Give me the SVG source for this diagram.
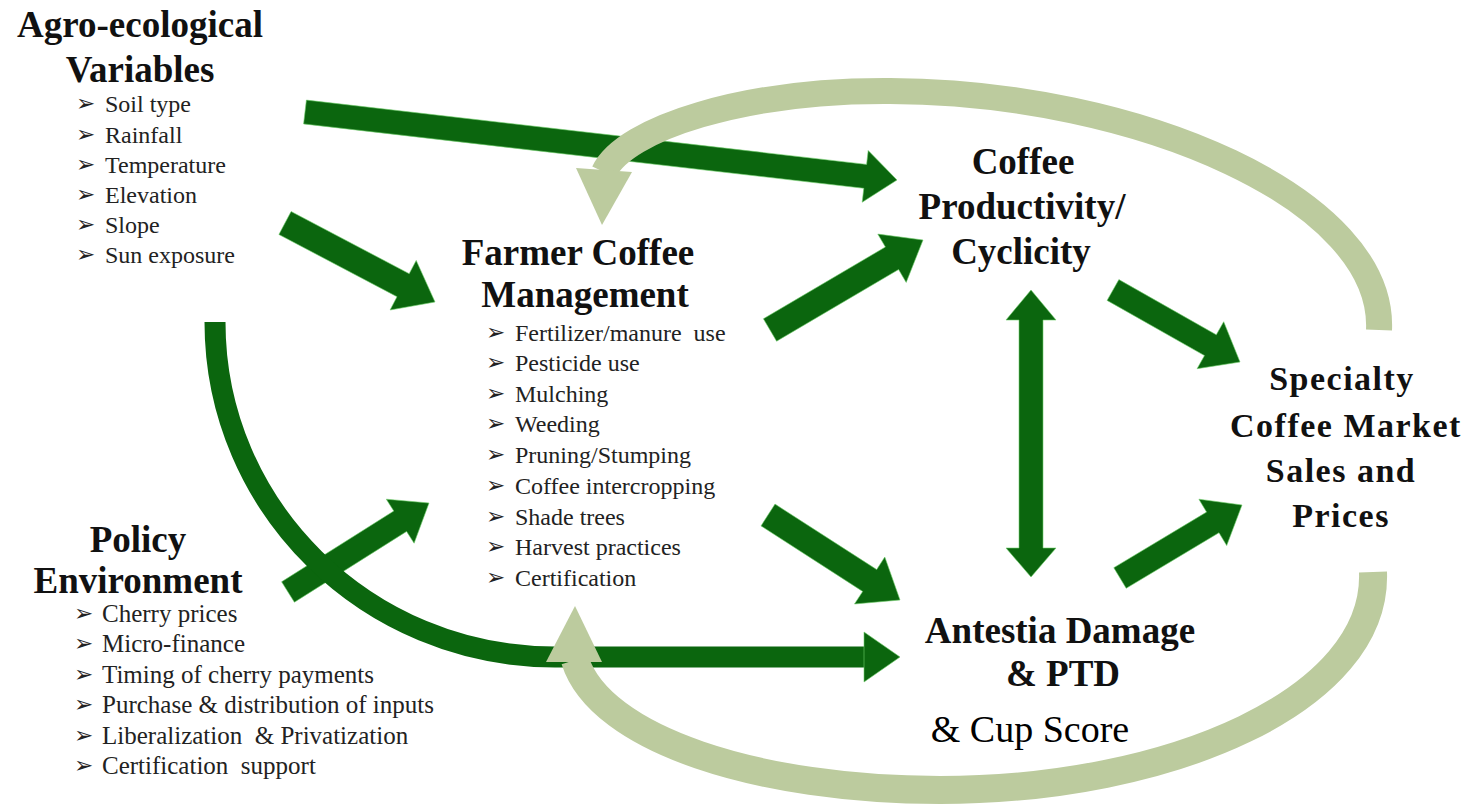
<svg xmlns="http://www.w3.org/2000/svg" width="1468" height="804" viewBox="0 0 1468 804">
<style>
.h{font-family:"Liberation Serif","Times New Roman",serif;font-weight:bold;font-size:37px;fill:#111;text-anchor:middle}
.hs{font-family:"Liberation Serif","Times New Roman",serif;font-weight:bold;font-size:34px;fill:#111;text-anchor:middle;letter-spacing:1.5px}
.b{font-family:"Liberation Serif","Times New Roman",serif;font-size:24px;fill:#222;white-space:pre}
.bp{font-family:"Liberation Serif","Times New Roman",serif;font-size:25px;fill:#222;white-space:pre}
.k{font-family:"DejaVu Sans",sans-serif;font-size:23px;fill:#222}
.cup{font-family:"Liberation Serif","Times New Roman",serif;font-size:38px;fill:#000;text-anchor:middle}
.dk{fill:#0b660e;stroke:#6fcf6a;stroke-width:1;stroke-opacity:.6}
.dks{fill:none;stroke:#0b660e}
.lt{fill:#bccb9e}
.lts{fill:none;stroke:#bccb9e}
</style>
<g id="connectors">
<polygon class="dk" points="306.4,100.1 866.6,164.4 868.2,150.5 897,180 862.2,202.2 863.8,188.3 303.6,123.9"/>
<polygon class="dk" points="291.1,211.5 409.2,273.7 416.2,260.4 435,302 390.1,310 397,296.7 278.9,234.5"/>
<polygon class="dk" points="281.6,581.8 393.8,511 386.3,499.2 429,503 414.1,543.2 406.6,531.4 294.4,602.2"/>
<polygon class="dk" points="763.4,318.8 885.4,247 877.8,234.1 923,240 906.2,282.4 898.6,269.5 776.6,341.2"/>
<polygon class="dk" points="775,504.1 876.7,569.6 884.8,557 900,600 854.5,604 862.7,591.4 761,525.9"/>
<polygon class="dk" points="1118.9,279.6 1216.3,334.8 1223.7,321.7 1240,362 1197.1,368.7 1204.5,355.6 1107.1,300.4"/>
<polygon class="dk" points="1113.8,567.7 1206.6,512.1 1198.9,499.2 1242,505 1226.7,545.6 1219,532.7 1126.2,588.3"/>
<polygon class="dk" points="1031,290 1056,320 1043,320 1043,548 1056,548 1031,577 1006,548 1019,548 1019,320 1006,320"/>
<path class="dks" stroke-width="21" d="M 215,322 C 215,507 367,657 555,657 L 866,657"/>
<polygon class="dk" points="864,632 900,657 864,682"/>
<path class="lts" stroke-width="26" d="M 1379,330 C 1385,200 1140,92 890,91 C 745,90 625,128 604,172"/>
<polygon class="lt" points="576,168 632,172 602,225"/>
<path class="lts" stroke-width="28" d="M 1373,572 C 1378,700 1170,790 940,790 C 760,790 600,740 575,660"/>
<polygon class="lt" points="546,662 602,662 575,606"/>
</g>
<g id="agro">
<text class="h" x="140" y="37">Agro-ecological</text>
<text class="h" x="140" y="82">Variables</text>
<text class="k" x="76" y="111">➢</text><text class="b" x="105" y="112">Soil type</text>
<text class="k" x="76" y="142">➢</text><text class="b" x="105" y="143">Rainfall</text>
<text class="k" x="76" y="172">➢</text><text class="b" x="105" y="173">Temperature</text>
<text class="k" x="76" y="202">➢</text><text class="b" x="105" y="203">Elevation</text>
<text class="k" x="76" y="232">➢</text><text class="b" x="105" y="233">Slope</text>
<text class="k" x="76" y="262">➢</text><text class="b" x="105" y="263">Sun exposure</text>
</g>
<g id="farmer">
<text class="h" x="578" y="265">Farmer Coffee</text>
<text class="h" x="585" y="307">Management</text>
<text class="k" x="486" y="340">➢</text><text class="b" x="515" y="341" xml:space="preserve">Fertilizer/manure  use</text>
<text class="k" x="486" y="370">➢</text><text class="b" x="515" y="371">Pesticide use</text>
<text class="k" x="486" y="401">➢</text><text class="b" x="515" y="402">Mulching</text>
<text class="k" x="486" y="431">➢</text><text class="b" x="515" y="432">Weeding</text>
<text class="k" x="486" y="462">➢</text><text class="b" x="515" y="463">Pruning/Stumping</text>
<text class="k" x="486" y="493">➢</text><text class="b" x="515" y="494">Coffee intercropping</text>
<text class="k" x="486" y="524">➢</text><text class="b" x="515" y="525">Shade trees</text>
<text class="k" x="486" y="554">➢</text><text class="b" x="515" y="555">Harvest practices</text>
<text class="k" x="486" y="585">➢</text><text class="b" x="515" y="586">Certification</text>
</g>
<g id="productivity">
<text class="h" x="1023" y="174">Coffee</text>
<text class="h" x="1022" y="219">Productivity/</text>
<text class="h" x="1021" y="264">Cyclicity</text>
</g>
<g id="specialty">
<text class="hs" x="1342" y="390">Specialty</text>
<text class="hs" x="1346" y="437">Coffee Market</text>
<text class="hs" x="1341" y="482">Sales and</text>
<text class="hs" x="1341" y="527">Prices</text>
</g>
<g id="policy">
<text class="h" x="138" y="552">Policy</text>
<text class="h" x="138" y="593">Environment</text>
<text class="k" x="74" y="621">➢</text><text class="bp" x="102" y="622">Cherry prices</text>
<text class="k" x="74" y="651">➢</text><text class="bp" x="102" y="652">Micro-finance</text>
<text class="k" x="74" y="682">➢</text><text class="bp" x="102" y="683">Timing of cherry payments</text>
<text class="k" x="74" y="712">➢</text><text class="bp" x="102" y="713">Purchase &amp; distribution of inputs</text>
<text class="k" x="74" y="743">➢</text><text class="bp" x="102" y="744" xml:space="preserve">Liberalization  &amp; Privatization</text>
<text class="k" x="74" y="773">➢</text><text class="bp" x="102" y="774" xml:space="preserve">Certification  support</text>
</g>
<g id="antestia">
<text class="h" x="1060" y="643">Antestia Damage</text>
<text class="h" x="1063" y="686">&amp; PTD</text>
<text class="cup" x="1030" y="742">&amp; Cup Score</text>
</g>
</svg>
